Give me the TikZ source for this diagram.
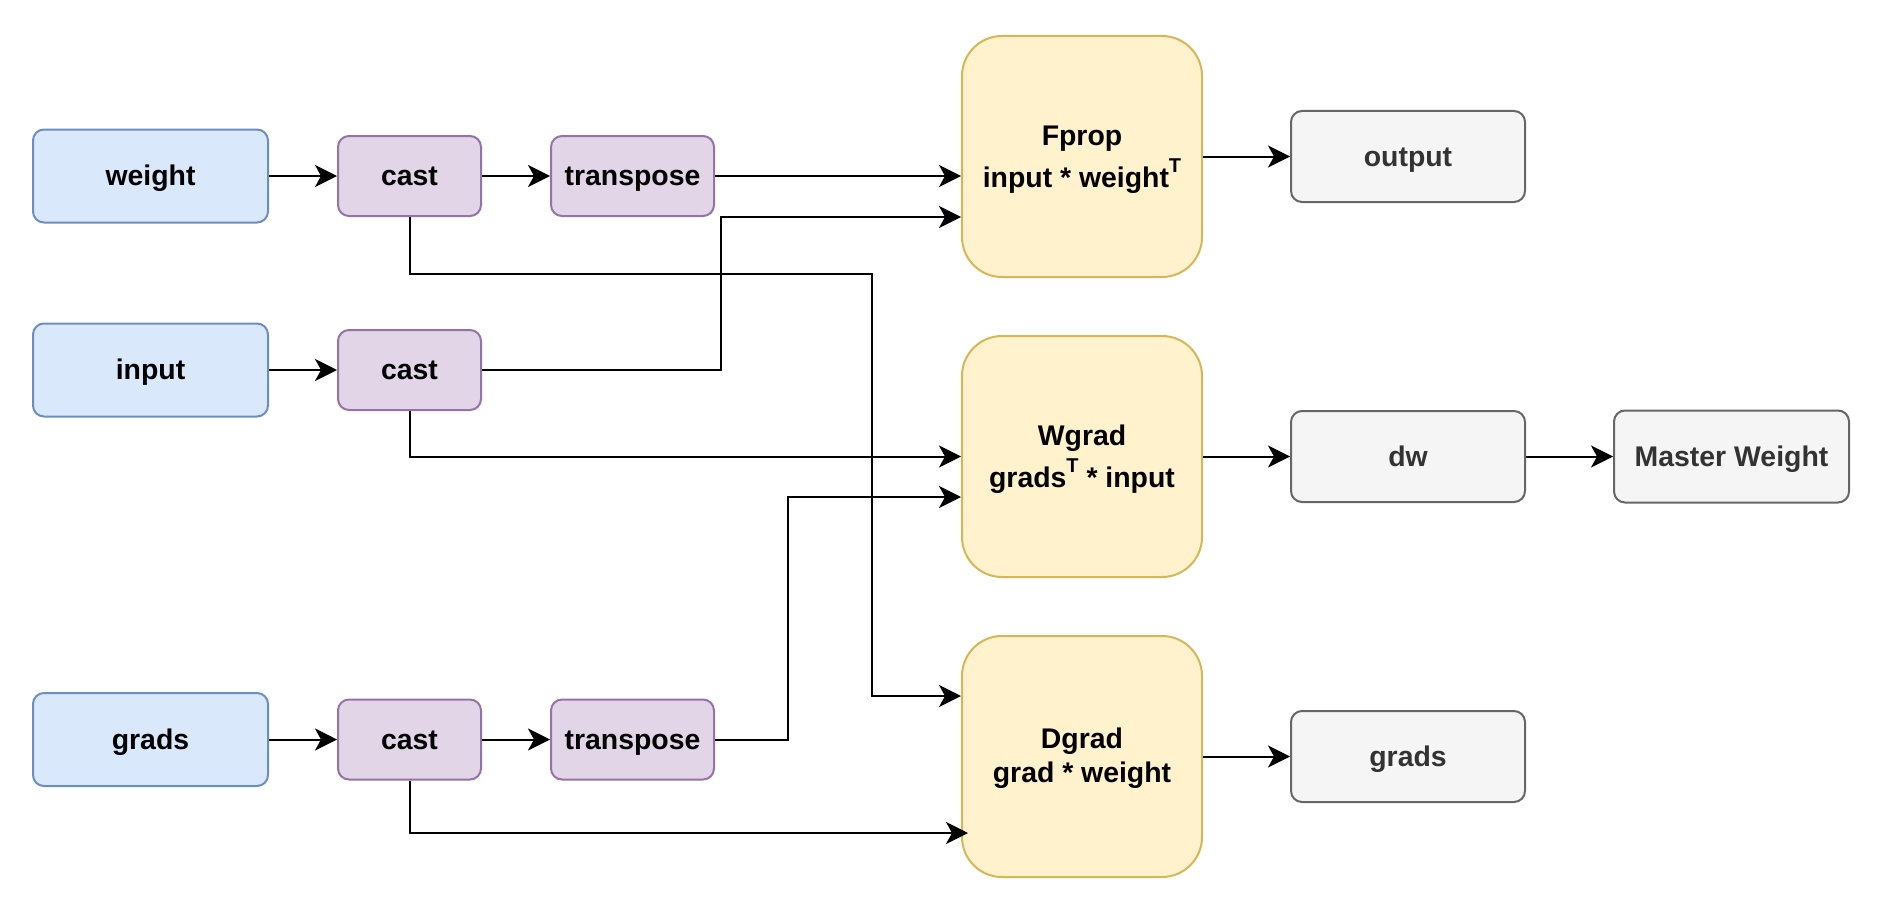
\documentclass[tikz,border=0pt]{standalone}
\usepackage{fontspec}
\setmainfont{Liberation Sans}
\usetikzlibrary{arrows.meta}
\definecolor{bluefill}{HTML}{DAE8FC}
\definecolor{bluedraw}{HTML}{6C8EBF}
\definecolor{purfill}{HTML}{E1D5E7}
\definecolor{purdraw}{HTML}{9673A6}
\definecolor{yelfill}{HTML}{FFF2CC}
\definecolor{yeldraw}{HTML}{D6B656}
\definecolor{grayfill}{HTML}{F5F5F5}
\definecolor{graydraw}{HTML}{666666}
\definecolor{graytext}{HTML}{333333}
\newcommand{\supT}{\smash{\raisebox{7.8pt}{\fontsize{10}{10}\selectfont T}}}
\begin{document}
\begin{tikzpicture}[x=0.5pt,y=-0.5pt,
  box/.style={draw, line width=1pt, rounded corners=5.5pt, inner sep=0pt,
    font=\fontsize{14.2}{17}\selectfont\bfseries},
  oneline/.style={text height=12.8pt, text depth=2.84pt},
  inbox/.style={box, oneline, fill=bluefill, draw=bluedraw, minimum width=117.5pt, minimum height=46.5pt},
  castbox/.style={box, oneline, fill=purfill, draw=purdraw, minimum width=71.5pt, minimum height=40pt},
  trbox/.style={box, oneline, fill=purfill, draw=purdraw, minimum width=81.5pt, minimum height=40pt},
  opbox/.style={box, align=center, rounded corners=20pt, fill=yelfill, draw=yeldraw, minimum width=120pt, minimum height=120.5pt},
  outbox/.style={box, oneline, fill=grayfill, draw=graydraw, text=graytext, minimum width=117pt, minimum height=45.5pt},
  conn/.style={line width=1pt, -{Stealth[length=11pt,width=11pt,inset=3pt]}}
]
\useasboundingbox (0,0) rectangle (1882,920);

% inputs
\node[inbox] (weight) at (150.5,176) {weight};
\node[inbox] (input) at (150.5,370) {input};
\node[inbox] (gradsin) at (150.5,739.5) {grads};
% casts
\node[castbox] (cast1) at (409.5,176) {cast};
\node[castbox] (cast2) at (409.5,370) {cast};
\node[castbox] (cast3) at (409.5,739.5) {cast};
% transposes
\node[trbox] (tr1) at (632.5,176) {transpose};
\node[trbox] (tr3) at (632.5,739.5) {transpose};
% ops
\node[opbox] (fprop) at (1082,156.5) {\rule{0pt}{12.9pt}Fprop\\[4.3pt]input * weight\supT};
\node[opbox] (wgrad) at (1082,456.5) {\rule{0pt}{12.9pt}Wgrad\\[4.3pt]grads\supT{} * input};
\node[opbox] (dgrad) at (1082,756.5) {\rule{0pt}{11.5pt}Dgrad\\grad * weight};
% outputs
\node[outbox] (output) at (1408,156.5) {output};
\node[outbox] (dw) at (1408,456.5) {dw};
\node[outbox] (gradsout) at (1408,756.5) {grads};
\node[outbox, minimum width=117.5pt, minimum height=46pt] (master) at (1731.5,456.5) {Master Weight};

% bend points
\coordinate (b1) at (721,217);
\coordinate (b2) at (872,274);
\coordinate (b3) at (872,696);
\coordinate (b4) at (788,497);
\coordinate (d3) at (968,833);

% connectors
\draw[conn] (weight) -- (cast1);
\draw[conn] (input) -- (cast2);
\draw[conn] (gradsin) -- (cast3);
\draw[conn] (cast1) -- (tr1);
\draw[conn] (cast3) -- (tr3);
\draw[conn] (tr1.east) -- (fprop.west |- tr1.east);
\draw[conn] (cast2.east) -| (b1) -- (fprop.west |- b1);
\draw[conn] (cast1.south) |- (b2) -- (b3) -- (dgrad.west |- b3);
\draw[conn] (cast2.south) |- (wgrad.west);
\draw[conn] (tr3.east) -| (b4) -- (wgrad.west |- b4);
\draw[conn] (cast3.south) |- (d3);
\draw[conn] (fprop) -- (output);
\draw[conn] (wgrad) -- (dw);
\draw[conn] (dw) -- (master);
\draw[conn] (dgrad) -- (gradsout);
\end{tikzpicture}
\end{document}
